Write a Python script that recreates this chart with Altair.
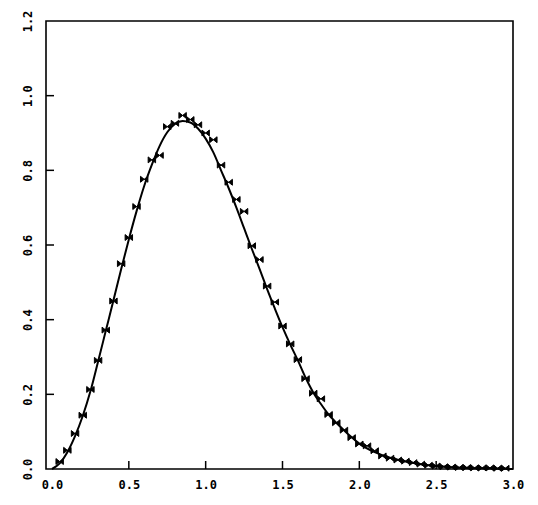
import altair as alt
import pandas as pd

# Observed points (bow-tie markers)
marker_x = [0.05, 0.10, 0.15, 0.20, 0.25, 0.30, 0.35, 0.40, 0.45, 0.50,
            0.55, 0.60, 0.65, 0.70, 0.75, 0.80, 0.85, 0.90, 0.95, 1.00,
            1.05, 1.10, 1.15, 1.20, 1.25, 1.30, 1.35, 1.40, 1.45, 1.50,
            1.55, 1.60, 1.65, 1.70, 1.75, 1.80, 1.85, 1.90, 1.95, 2.00,
            2.05, 2.10, 2.15, 2.20, 2.25, 2.30, 2.35, 2.40, 2.45, 2.50,
            2.55, 2.60, 2.65, 2.70, 2.75, 2.80, 2.85, 2.90, 2.95]
marker_y = [0.020, 0.050, 0.095, 0.144, 0.213, 0.291, 0.372, 0.450, 0.550, 0.620,
            0.703, 0.776, 0.828, 0.840, 0.917, 0.926, 0.947, 0.936, 0.922, 0.900,
            0.882, 0.814, 0.768, 0.722, 0.690, 0.598, 0.561, 0.490, 0.447, 0.383,
            0.335, 0.293, 0.242, 0.203, 0.188, 0.146, 0.124, 0.104, 0.084, 0.067,
            0.062, 0.049, 0.035, 0.029, 0.024, 0.021, 0.017, 0.013, 0.010, 0.008,
            0.006, 0.005, 0.004, 0.004, 0.003, 0.003, 0.003, 0.002, 0.002]

# Smooth fitted curve
curve_x = [0.00, 0.05, 0.10, 0.15, 0.20, 0.25, 0.30, 0.35, 0.40, 0.45,
           0.50, 0.55, 0.60, 0.65, 0.70, 0.75, 0.80, 0.85, 0.90, 0.95,
           1.00, 1.05, 1.10, 1.15, 1.20, 1.25, 1.30, 1.35, 1.40, 1.45,
           1.50, 1.55, 1.60, 1.65, 1.70, 1.75, 1.80, 1.85, 1.90, 1.95,
           2.00, 2.10, 2.20, 2.30, 2.40, 2.50, 2.60, 2.70, 2.80, 2.90, 3.00]
curve_y = [0.000, 0.015, 0.045, 0.088, 0.142, 0.208, 0.288, 0.370, 0.452, 0.535,
           0.615, 0.690, 0.758, 0.815, 0.865, 0.902, 0.924, 0.932, 0.928, 0.912,
           0.885, 0.848, 0.800, 0.752, 0.700, 0.645, 0.590, 0.537, 0.482, 0.430,
           0.380, 0.334, 0.291, 0.245, 0.205, 0.174, 0.146, 0.124, 0.104, 0.085,
           0.068, 0.045, 0.030, 0.020, 0.013, 0.008, 0.005, 0.003, 0.002, 0.001, 0.000]

x_labels = [0.0, 0.5, 1.0, 1.5, 2.0, 2.5, 3.0]
y_labels = [0.0, 0.2, 0.4, 0.6, 0.8, 1.0, 1.2]
x_ticks = [0.5, 1.0, 1.5, 2.0, 2.5]
y_ticks = [0.2, 0.4, 0.6, 0.8, 1.0]

W, H = 467, 448
FONT = "DejaVu Sans Mono"

xscale = alt.Scale(domain=[-0.039, 3.0], nice=False, zero=False)
yscale = alt.Scale(domain=[0, 1.2], nice=False)

curve_df = pd.DataFrame({"x": curve_x, "y": curve_y})
marker_df = pd.DataFrame({"x": marker_x, "y": marker_y})

line = alt.Chart(curve_df).mark_line(color="black", strokeWidth=2, interpolate="monotone").encode(
    x=alt.X("x:Q", scale=xscale, axis=alt.Axis(
        values=x_labels, format=".1f", title=None, grid=False, domain=False,
        ticks=False, labelFont=FONT, labelFontSize=12, labelFontWeight="bold",
        labelColor="black", labelPadding=10, labelFlush=False)),
    y=alt.Y("y:Q", scale=yscale, axis=alt.Axis(
        values=y_labels, format=".1f", title=None, grid=False, domain=False,
        ticks=False, labelFont=FONT, labelFontSize=12, labelFontWeight="bold",
        labelColor="black", labelAngle=270, labelAlign="center",
        labelBaseline="middle", labelPadding=19, labelFlush=False)),
)

bowtie = "M-1,-0.8L0,0L-1,0.8Z M1,-0.8L0,0L1,0.8Z"
points = alt.Chart(marker_df).mark_point(
    shape=bowtie, filled=True, color="black", size=55, opacity=1,
    stroke="black", strokeWidth=1
).encode(
    x=alt.X("x:Q", scale=xscale),
    y=alt.Y("y:Q", scale=yscale),
)

xt = alt.Chart(pd.DataFrame({"x": x_ticks})).mark_rule(color="black", strokeWidth=1.5).encode(
    x=alt.X("x:Q", scale=xscale),
    y=alt.value(H),
    y2=alt.value(H - 8),
)
yt = alt.Chart(pd.DataFrame({"y": y_ticks})).mark_rule(color="black", strokeWidth=1.5).encode(
    y=alt.Y("y:Q", scale=yscale),
    x=alt.value(0),
    x2=alt.value(8),
)

chart = alt.layer(line, points, xt, yt).properties(
    width=W, height=H,
    autosize=alt.AutoSizeParams(type="none"),
    padding={"left": 38, "top": 13, "right": 15, "bottom": 28},
    background="white",
).configure_view(stroke="black", strokeWidth=1.6)

chart.save("out.html", embed_options={"renderer": "svg", "actions": False})
